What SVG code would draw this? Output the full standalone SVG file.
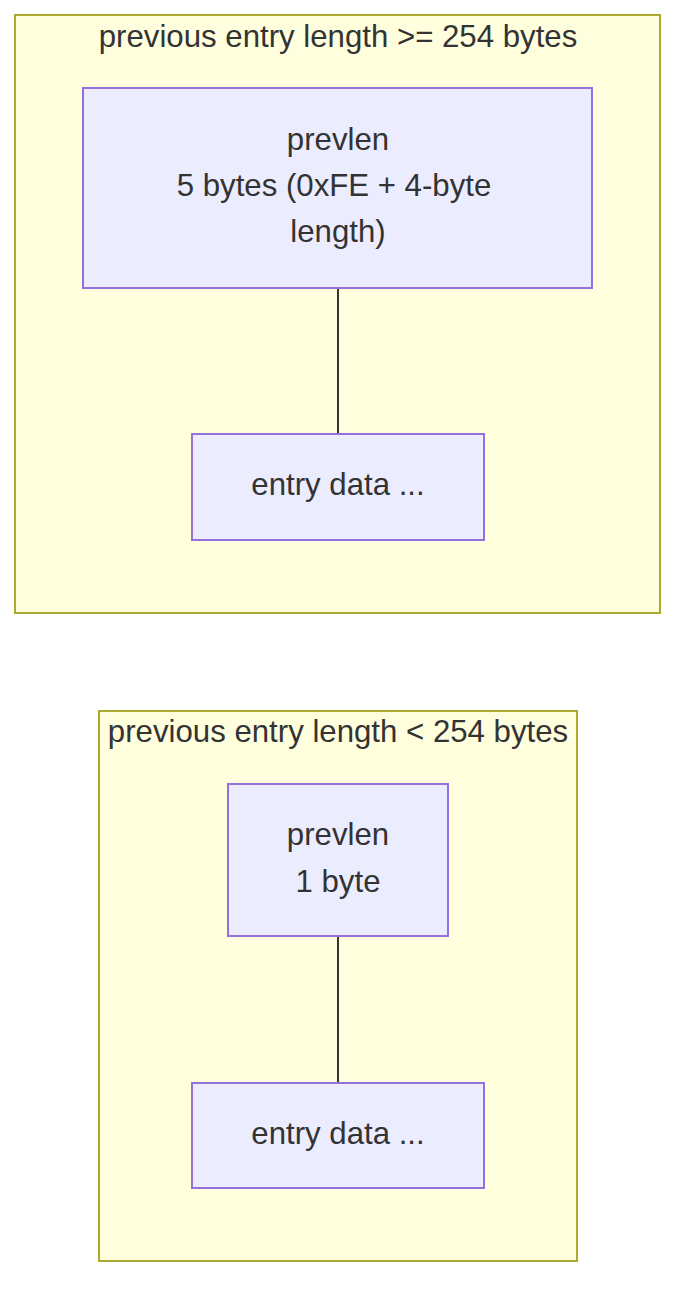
<svg xmlns="http://www.w3.org/2000/svg" width="692" height="1308" viewBox="0 0 692 1308">
<style>
.cluster{fill:#ffffde;stroke:#aaaa33;stroke-width:2}
.node{fill:#ececff;stroke:#9370db;stroke-width:2}
.edge{stroke:#333333;stroke-width:2;fill:none}
text{font-family:"Liberation Sans",Arial,sans-serif;font-size:31.2px;fill:#333333;text-anchor:middle}
</style>
<rect width="692" height="1308" fill="#ffffff"/>
<g id="cluster-ge254">
<rect class="cluster" x="15" y="15" width="645" height="598"/>
<text x="338" y="47">previous entry length &gt;= 254 bytes</text>
</g>
<g id="cluster-lt254">
<rect class="cluster" x="99" y="711" width="478" height="550"/>
<text x="338" y="742">previous entry length &lt; 254 bytes</text>
</g>
<g id="edges">
<line class="edge" x1="338" y1="288" x2="338" y2="434"/>
<line class="edge" x1="338" y1="936" x2="338" y2="1083"/>
</g>
<g id="prevlen5">
<rect class="node" x="83" y="88" width="509" height="200"/>
<text x="338" y="150">prevlen</text>
<text x="334" y="196">5 bytes (0xFE + 4-byte</text>
<text x="338" y="242">length)</text>
</g>
<g id="entry1">
<rect class="node" x="192" y="434" width="292" height="106"/>
<text x="338" y="495">entry data ...</text>
</g>
<g id="prevlen1">
<rect class="node" x="228" y="784" width="220" height="152"/>
<text x="338" y="845">prevlen</text>
<text x="338" y="892">1 byte</text>
</g>
<g id="entry2">
<rect class="node" x="192" y="1083" width="292" height="105"/>
<text x="338" y="1144">entry data ...</text>
</g>
</svg>
